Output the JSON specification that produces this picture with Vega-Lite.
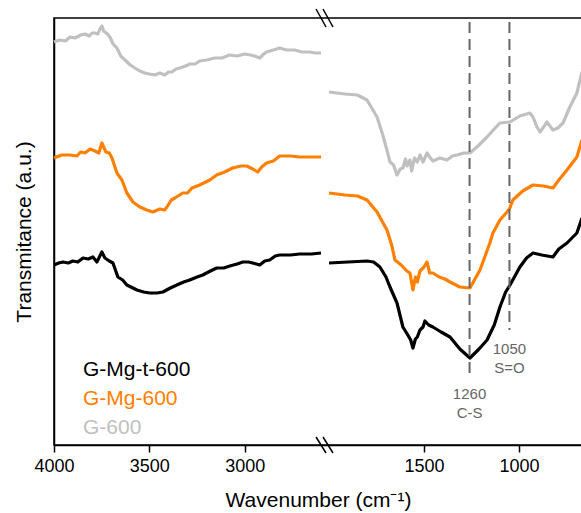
{
  "$schema": "https://vega.github.io/schema/vega-lite/v6.json",
  "width": 528,
  "height": 427,
  "autosize": {"type": "none"},
  "padding": {"left": 54, "top": 18, "right": 0, "bottom": 68},
  "background": "white",
  "config": {"font": "Liberation Sans", "view": {"stroke": "black", "strokeWidth": 1.5}},
  "datasets": {
    "spectra": [
      {"sample": "G-600", "part": "L", "wn": 4000, "T": 403},
      {"sample": "G-600", "part": "L", "wn": 3970, "T": 405},
      {"sample": "G-600", "part": "L", "wn": 3940, "T": 404},
      {"sample": "G-600", "part": "L", "wn": 3916, "T": 408},
      {"sample": "G-600", "part": "L", "wn": 3890, "T": 407},
      {"sample": "G-600", "part": "L", "wn": 3860, "T": 410},
      {"sample": "G-600", "part": "L", "wn": 3838, "T": 411},
      {"sample": "G-600", "part": "L", "wn": 3815, "T": 409},
      {"sample": "G-600", "part": "L", "wn": 3800, "T": 412},
      {"sample": "G-600", "part": "L", "wn": 3785, "T": 412},
      {"sample": "G-600", "part": "L", "wn": 3770, "T": 411},
      {"sample": "G-600", "part": "L", "wn": 3759, "T": 416},
      {"sample": "G-600", "part": "L", "wn": 3749, "T": 419},
      {"sample": "G-600", "part": "L", "wn": 3740, "T": 414},
      {"sample": "G-600", "part": "L", "wn": 3733, "T": 413},
      {"sample": "G-600", "part": "L", "wn": 3720, "T": 411},
      {"sample": "G-600", "part": "L", "wn": 3707, "T": 408},
      {"sample": "G-600", "part": "L", "wn": 3690, "T": 401},
      {"sample": "G-600", "part": "L", "wn": 3670, "T": 397},
      {"sample": "G-600", "part": "L", "wn": 3650, "T": 389},
      {"sample": "G-600", "part": "L", "wn": 3628, "T": 385},
      {"sample": "G-600", "part": "L", "wn": 3600, "T": 380},
      {"sample": "G-600", "part": "L", "wn": 3576, "T": 377},
      {"sample": "G-600", "part": "L", "wn": 3550, "T": 374},
      {"sample": "G-600", "part": "L", "wn": 3524, "T": 372},
      {"sample": "G-600", "part": "L", "wn": 3500, "T": 371},
      {"sample": "G-600", "part": "L", "wn": 3471, "T": 370},
      {"sample": "G-600", "part": "L", "wn": 3445, "T": 372},
      {"sample": "G-600", "part": "L", "wn": 3419, "T": 370},
      {"sample": "G-600", "part": "L", "wn": 3400, "T": 373},
      {"sample": "G-600", "part": "L", "wn": 3382, "T": 373},
      {"sample": "G-600", "part": "L", "wn": 3360, "T": 376},
      {"sample": "G-600", "part": "L", "wn": 3340, "T": 377},
      {"sample": "G-600", "part": "L", "wn": 3310, "T": 379},
      {"sample": "G-600", "part": "L", "wn": 3288, "T": 381},
      {"sample": "G-600", "part": "L", "wn": 3260, "T": 381},
      {"sample": "G-600", "part": "L", "wn": 3236, "T": 384},
      {"sample": "G-600", "part": "L", "wn": 3200, "T": 385},
      {"sample": "G-600", "part": "L", "wn": 3157, "T": 387},
      {"sample": "G-600", "part": "L", "wn": 3120, "T": 387},
      {"sample": "G-600", "part": "L", "wn": 3079, "T": 390},
      {"sample": "G-600", "part": "L", "wn": 3040, "T": 389},
      {"sample": "G-600", "part": "L", "wn": 3000, "T": 391},
      {"sample": "G-600", "part": "L", "wn": 2970, "T": 390},
      {"sample": "G-600", "part": "L", "wn": 2948, "T": 389},
      {"sample": "G-600", "part": "L", "wn": 2921, "T": 387},
      {"sample": "G-600", "part": "L", "wn": 2900, "T": 391},
      {"sample": "G-600", "part": "L", "wn": 2885, "T": 393},
      {"sample": "G-600", "part": "L", "wn": 2850, "T": 395},
      {"sample": "G-600", "part": "L", "wn": 2817, "T": 397},
      {"sample": "G-600", "part": "L", "wn": 2780, "T": 395},
      {"sample": "G-600", "part": "L", "wn": 2738, "T": 395},
      {"sample": "G-600", "part": "L", "wn": 2700, "T": 393},
      {"sample": "G-600", "part": "L", "wn": 2660, "T": 393},
      {"sample": "G-600", "part": "L", "wn": 2630, "T": 392},
      {"sample": "G-600", "part": "L", "wn": 2600, "T": 392},

      {"sample": "G-600", "part": "R", "wn": 2000, "T": 353},
      {"sample": "G-600", "part": "R", "wn": 1916, "T": 351},
      {"sample": "G-600", "part": "R", "wn": 1850, "T": 350},
      {"sample": "G-600", "part": "R", "wn": 1800, "T": 345},
      {"sample": "G-600", "part": "R", "wn": 1747, "T": 328},
      {"sample": "G-600", "part": "R", "wn": 1720, "T": 312},
      {"sample": "G-600", "part": "R", "wn": 1695, "T": 295},
      {"sample": "G-600", "part": "R", "wn": 1679, "T": 283},
      {"sample": "G-600", "part": "R", "wn": 1660, "T": 280},
      {"sample": "G-600", "part": "R", "wn": 1642, "T": 270},
      {"sample": "G-600", "part": "R", "wn": 1625, "T": 276},
      {"sample": "G-600", "part": "R", "wn": 1611, "T": 277},
      {"sample": "G-600", "part": "R", "wn": 1597, "T": 286},
      {"sample": "G-600", "part": "R", "wn": 1589, "T": 279},
      {"sample": "G-600", "part": "R", "wn": 1574, "T": 285},
      {"sample": "G-600", "part": "R", "wn": 1565, "T": 274},
      {"sample": "G-600", "part": "R", "wn": 1550, "T": 287},
      {"sample": "G-600", "part": "R", "wn": 1535, "T": 283},
      {"sample": "G-600", "part": "R", "wn": 1521, "T": 290},
      {"sample": "G-600", "part": "R", "wn": 1505, "T": 283},
      {"sample": "G-600", "part": "R", "wn": 1484, "T": 292},
      {"sample": "G-600", "part": "R", "wn": 1470, "T": 288},
      {"sample": "G-600", "part": "R", "wn": 1453, "T": 284},
      {"sample": "G-600", "part": "R", "wn": 1416, "T": 287},
      {"sample": "G-600", "part": "R", "wn": 1379, "T": 285},
      {"sample": "G-600", "part": "R", "wn": 1350, "T": 289},
      {"sample": "G-600", "part": "R", "wn": 1326, "T": 290},
      {"sample": "G-600", "part": "R", "wn": 1290, "T": 292},
      {"sample": "G-600", "part": "R", "wn": 1258, "T": 292},
      {"sample": "G-600", "part": "R", "wn": 1210, "T": 300},
      {"sample": "G-600", "part": "R", "wn": 1168, "T": 308},
      {"sample": "G-600", "part": "R", "wn": 1130, "T": 316},
      {"sample": "G-600", "part": "R", "wn": 1100, "T": 322},
      {"sample": "G-600", "part": "R", "wn": 1047, "T": 323},
      {"sample": "G-600", "part": "R", "wn": 995, "T": 329},
      {"sample": "G-600", "part": "R", "wn": 942, "T": 332},
      {"sample": "G-600", "part": "R", "wn": 926, "T": 328},
      {"sample": "G-600", "part": "R", "wn": 905, "T": 318},
      {"sample": "G-600", "part": "R", "wn": 889, "T": 313},
      {"sample": "G-600", "part": "R", "wn": 870, "T": 318},
      {"sample": "G-600", "part": "R", "wn": 853, "T": 323},
      {"sample": "G-600", "part": "R", "wn": 821, "T": 315},
      {"sample": "G-600", "part": "R", "wn": 795, "T": 317},
      {"sample": "G-600", "part": "R", "wn": 768, "T": 322},
      {"sample": "G-600", "part": "R", "wn": 732, "T": 338},
      {"sample": "G-600", "part": "R", "wn": 695, "T": 352},
      {"sample": "G-600", "part": "R", "wn": 668, "T": 373},

      {"sample": "G-Mg-600", "part": "L", "wn": 4000, "T": 287},
      {"sample": "G-Mg-600", "part": "L", "wn": 3960, "T": 290},
      {"sample": "G-Mg-600", "part": "L", "wn": 3916, "T": 290},
      {"sample": "G-Mg-600", "part": "L", "wn": 3880, "T": 289},
      {"sample": "G-Mg-600", "part": "L", "wn": 3860, "T": 293},
      {"sample": "G-Mg-600", "part": "L", "wn": 3838, "T": 292},
      {"sample": "G-Mg-600", "part": "L", "wn": 3810, "T": 296},
      {"sample": "G-Mg-600", "part": "L", "wn": 3785, "T": 294},
      {"sample": "G-Mg-600", "part": "L", "wn": 3765, "T": 292},
      {"sample": "G-Mg-600", "part": "L", "wn": 3749, "T": 302},
      {"sample": "G-Mg-600", "part": "L", "wn": 3728, "T": 293},
      {"sample": "G-Mg-600", "part": "L", "wn": 3710, "T": 292},
      {"sample": "G-Mg-600", "part": "L", "wn": 3696, "T": 287},
      {"sample": "G-Mg-600", "part": "L", "wn": 3670, "T": 272},
      {"sample": "G-Mg-600", "part": "L", "wn": 3644, "T": 265},
      {"sample": "G-Mg-600", "part": "L", "wn": 3618, "T": 252},
      {"sample": "G-Mg-600", "part": "L", "wn": 3586, "T": 243},
      {"sample": "G-Mg-600", "part": "L", "wn": 3550, "T": 238},
      {"sample": "G-Mg-600", "part": "L", "wn": 3513, "T": 235},
      {"sample": "G-Mg-600", "part": "L", "wn": 3482, "T": 233},
      {"sample": "G-Mg-600", "part": "L", "wn": 3445, "T": 236},
      {"sample": "G-Mg-600", "part": "L", "wn": 3420, "T": 235},
      {"sample": "G-Mg-600", "part": "L", "wn": 3408, "T": 238},
      {"sample": "G-Mg-600", "part": "L", "wn": 3385, "T": 245},
      {"sample": "G-Mg-600", "part": "L", "wn": 3366, "T": 247},
      {"sample": "G-Mg-600", "part": "L", "wn": 3325, "T": 252},
      {"sample": "G-Mg-600", "part": "L", "wn": 3300, "T": 252},
      {"sample": "G-Mg-600", "part": "L", "wn": 3277, "T": 257},
      {"sample": "G-Mg-600", "part": "L", "wn": 3236, "T": 260},
      {"sample": "G-Mg-600", "part": "L", "wn": 3183, "T": 265},
      {"sample": "G-Mg-600", "part": "L", "wn": 3147, "T": 270},
      {"sample": "G-Mg-600", "part": "L", "wn": 3105, "T": 273},
      {"sample": "G-Mg-600", "part": "L", "wn": 3063, "T": 277},
      {"sample": "G-Mg-600", "part": "L", "wn": 3020, "T": 279},
      {"sample": "G-Mg-600", "part": "L", "wn": 2989, "T": 279},
      {"sample": "G-Mg-600", "part": "L", "wn": 2958, "T": 276},
      {"sample": "G-Mg-600", "part": "L", "wn": 2932, "T": 273},
      {"sample": "G-Mg-600", "part": "L", "wn": 2911, "T": 278},
      {"sample": "G-Mg-600", "part": "L", "wn": 2885, "T": 282},
      {"sample": "G-Mg-600", "part": "L", "wn": 2850, "T": 284},
      {"sample": "G-Mg-600", "part": "L", "wn": 2817, "T": 289},
      {"sample": "G-Mg-600", "part": "L", "wn": 2760, "T": 289},
      {"sample": "G-Mg-600", "part": "L", "wn": 2712, "T": 288},
      {"sample": "G-Mg-600", "part": "L", "wn": 2650, "T": 288},
      {"sample": "G-Mg-600", "part": "L", "wn": 2600, "T": 288},

      {"sample": "G-Mg-600", "part": "R", "wn": 2000, "T": 252},
      {"sample": "G-Mg-600", "part": "R", "wn": 1916, "T": 250},
      {"sample": "G-Mg-600", "part": "R", "wn": 1850, "T": 249},
      {"sample": "G-Mg-600", "part": "R", "wn": 1800, "T": 245},
      {"sample": "G-Mg-600", "part": "R", "wn": 1747, "T": 233},
      {"sample": "G-Mg-600", "part": "R", "wn": 1695, "T": 215},
      {"sample": "G-Mg-600", "part": "R", "wn": 1670, "T": 200},
      {"sample": "G-Mg-600", "part": "R", "wn": 1653, "T": 185},
      {"sample": "G-Mg-600", "part": "R", "wn": 1620, "T": 180},
      {"sample": "G-Mg-600", "part": "R", "wn": 1590, "T": 174},
      {"sample": "G-Mg-600", "part": "R", "wn": 1574, "T": 172},
      {"sample": "G-Mg-600", "part": "R", "wn": 1558, "T": 155},
      {"sample": "G-Mg-600", "part": "R", "wn": 1545, "T": 168},
      {"sample": "G-Mg-600", "part": "R", "wn": 1535, "T": 163},
      {"sample": "G-Mg-600", "part": "R", "wn": 1521, "T": 174},
      {"sample": "G-Mg-600", "part": "R", "wn": 1500, "T": 178},
      {"sample": "G-Mg-600", "part": "R", "wn": 1484, "T": 183},
      {"sample": "G-Mg-600", "part": "R", "wn": 1470, "T": 172},
      {"sample": "G-Mg-600", "part": "R", "wn": 1453, "T": 172},
      {"sample": "G-Mg-600", "part": "R", "wn": 1420, "T": 168},
      {"sample": "G-Mg-600", "part": "R", "wn": 1390, "T": 166},
      {"sample": "G-Mg-600", "part": "R", "wn": 1363, "T": 163},
      {"sample": "G-Mg-600", "part": "R", "wn": 1311, "T": 158},
      {"sample": "G-Mg-600", "part": "R", "wn": 1258, "T": 157},
      {"sample": "G-Mg-600", "part": "R", "wn": 1205, "T": 175},
      {"sample": "G-Mg-600", "part": "R", "wn": 1153, "T": 202},
      {"sample": "G-Mg-600", "part": "R", "wn": 1137, "T": 212},
      {"sample": "G-Mg-600", "part": "R", "wn": 1100, "T": 225},
      {"sample": "G-Mg-600", "part": "R", "wn": 1063, "T": 233},
      {"sample": "G-Mg-600", "part": "R", "wn": 1050, "T": 236},
      {"sample": "G-Mg-600", "part": "R", "wn": 1032, "T": 245},
      {"sample": "G-Mg-600", "part": "R", "wn": 980, "T": 254},
      {"sample": "G-Mg-600", "part": "R", "wn": 926, "T": 260},
      {"sample": "G-Mg-600", "part": "R", "wn": 870, "T": 259},
      {"sample": "G-Mg-600", "part": "R", "wn": 821, "T": 257},
      {"sample": "G-Mg-600", "part": "R", "wn": 790, "T": 265},
      {"sample": "G-Mg-600", "part": "R", "wn": 747, "T": 275},
      {"sample": "G-Mg-600", "part": "R", "wn": 695, "T": 288},
      {"sample": "G-Mg-600", "part": "R", "wn": 668, "T": 305},

      {"sample": "G-Mg-t-600", "part": "L", "wn": 4000, "T": 180},
      {"sample": "G-Mg-t-600", "part": "L", "wn": 3975, "T": 182},
      {"sample": "G-Mg-t-600", "part": "L", "wn": 3953, "T": 183},
      {"sample": "G-Mg-t-600", "part": "L", "wn": 3925, "T": 182},
      {"sample": "G-Mg-t-600", "part": "L", "wn": 3901, "T": 184},
      {"sample": "G-Mg-t-600", "part": "L", "wn": 3875, "T": 183},
      {"sample": "G-Mg-t-600", "part": "L", "wn": 3848, "T": 187},
      {"sample": "G-Mg-t-600", "part": "L", "wn": 3820, "T": 186},
      {"sample": "G-Mg-t-600", "part": "L", "wn": 3796, "T": 188},
      {"sample": "G-Mg-t-600", "part": "L", "wn": 3775, "T": 183},
      {"sample": "G-Mg-t-600", "part": "L", "wn": 3749, "T": 193},
      {"sample": "G-Mg-t-600", "part": "L", "wn": 3733, "T": 187},
      {"sample": "G-Mg-t-600", "part": "L", "wn": 3710, "T": 184},
      {"sample": "G-Mg-t-600", "part": "L", "wn": 3691, "T": 182},
      {"sample": "G-Mg-t-600", "part": "L", "wn": 3665, "T": 168},
      {"sample": "G-Mg-t-600", "part": "L", "wn": 3640, "T": 165},
      {"sample": "G-Mg-t-600", "part": "L", "wn": 3618, "T": 160},
      {"sample": "G-Mg-t-600", "part": "L", "wn": 3565, "T": 155},
      {"sample": "G-Mg-t-600", "part": "L", "wn": 3530, "T": 153},
      {"sample": "G-Mg-t-600", "part": "L", "wn": 3497, "T": 152},
      {"sample": "G-Mg-t-600", "part": "L", "wn": 3460, "T": 152},
      {"sample": "G-Mg-t-600", "part": "L", "wn": 3429, "T": 153},
      {"sample": "G-Mg-t-600", "part": "L", "wn": 3390, "T": 157},
      {"sample": "G-Mg-t-600", "part": "L", "wn": 3356, "T": 160},
      {"sample": "G-Mg-t-600", "part": "L", "wn": 3320, "T": 163},
      {"sample": "G-Mg-t-600", "part": "L", "wn": 3288, "T": 165},
      {"sample": "G-Mg-t-600", "part": "L", "wn": 3250, "T": 168},
      {"sample": "G-Mg-t-600", "part": "L", "wn": 3220, "T": 170},
      {"sample": "G-Mg-t-600", "part": "L", "wn": 3180, "T": 174},
      {"sample": "G-Mg-t-600", "part": "L", "wn": 3147, "T": 177},
      {"sample": "G-Mg-t-600", "part": "L", "wn": 3110, "T": 177},
      {"sample": "G-Mg-t-600", "part": "L", "wn": 3078, "T": 179},
      {"sample": "G-Mg-t-600", "part": "L", "wn": 3040, "T": 181},
      {"sample": "G-Mg-t-600", "part": "L", "wn": 3010, "T": 183},
      {"sample": "G-Mg-t-600", "part": "L", "wn": 2980, "T": 183},
      {"sample": "G-Mg-t-600", "part": "L", "wn": 2958, "T": 182},
      {"sample": "G-Mg-t-600", "part": "L", "wn": 2921, "T": 180},
      {"sample": "G-Mg-t-600", "part": "L", "wn": 2895, "T": 184},
      {"sample": "G-Mg-t-600", "part": "L", "wn": 2869, "T": 185},
      {"sample": "G-Mg-t-600", "part": "L", "wn": 2840, "T": 189},
      {"sample": "G-Mg-t-600", "part": "L", "wn": 2817, "T": 190},
      {"sample": "G-Mg-t-600", "part": "L", "wn": 2760, "T": 190},
      {"sample": "G-Mg-t-600", "part": "L", "wn": 2712, "T": 191},
      {"sample": "G-Mg-t-600", "part": "L", "wn": 2650, "T": 191},
      {"sample": "G-Mg-t-600", "part": "L", "wn": 2600, "T": 192},

      {"sample": "G-Mg-t-600", "part": "R", "wn": 2000, "T": 182},
      {"sample": "G-Mg-t-600", "part": "R", "wn": 1900, "T": 183},
      {"sample": "G-Mg-t-600", "part": "R", "wn": 1800, "T": 184},
      {"sample": "G-Mg-t-600", "part": "R", "wn": 1765, "T": 183},
      {"sample": "G-Mg-t-600", "part": "R", "wn": 1732, "T": 178},
      {"sample": "G-Mg-t-600", "part": "R", "wn": 1700, "T": 168},
      {"sample": "G-Mg-t-600", "part": "R", "wn": 1679, "T": 158},
      {"sample": "G-Mg-t-600", "part": "R", "wn": 1642, "T": 142},
      {"sample": "G-Mg-t-600", "part": "R", "wn": 1611, "T": 118},
      {"sample": "G-Mg-t-600", "part": "R", "wn": 1585, "T": 110},
      {"sample": "G-Mg-t-600", "part": "R", "wn": 1570, "T": 105},
      {"sample": "G-Mg-t-600", "part": "R", "wn": 1558, "T": 97},
      {"sample": "G-Mg-t-600", "part": "R", "wn": 1545, "T": 106},
      {"sample": "G-Mg-t-600", "part": "R", "wn": 1535, "T": 108},
      {"sample": "G-Mg-t-600", "part": "R", "wn": 1521, "T": 115},
      {"sample": "G-Mg-t-600", "part": "R", "wn": 1505, "T": 118},
      {"sample": "G-Mg-t-600", "part": "R", "wn": 1495, "T": 124},
      {"sample": "G-Mg-t-600", "part": "R", "wn": 1475, "T": 120},
      {"sample": "G-Mg-t-600", "part": "R", "wn": 1453, "T": 118},
      {"sample": "G-Mg-t-600", "part": "R", "wn": 1410, "T": 113},
      {"sample": "G-Mg-t-600", "part": "R", "wn": 1363, "T": 108},
      {"sample": "G-Mg-t-600", "part": "R", "wn": 1311, "T": 96},
      {"sample": "G-Mg-t-600", "part": "R", "wn": 1258, "T": 87},
      {"sample": "G-Mg-t-600", "part": "R", "wn": 1210, "T": 96},
      {"sample": "G-Mg-t-600", "part": "R", "wn": 1168, "T": 105},
      {"sample": "G-Mg-t-600", "part": "R", "wn": 1130, "T": 120},
      {"sample": "G-Mg-t-600", "part": "R", "wn": 1100, "T": 138},
      {"sample": "G-Mg-t-600", "part": "R", "wn": 1070, "T": 153},
      {"sample": "G-Mg-t-600", "part": "R", "wn": 1047, "T": 160},
      {"sample": "G-Mg-t-600", "part": "R", "wn": 995, "T": 178},
      {"sample": "G-Mg-t-600", "part": "R", "wn": 960, "T": 187},
      {"sample": "G-Mg-t-600", "part": "R", "wn": 926, "T": 192},
      {"sample": "G-Mg-t-600", "part": "R", "wn": 880, "T": 190},
      {"sample": "G-Mg-t-600", "part": "R", "wn": 821, "T": 188},
      {"sample": "G-Mg-t-600", "part": "R", "wn": 790, "T": 196},
      {"sample": "G-Mg-t-600", "part": "R", "wn": 747, "T": 202},
      {"sample": "G-Mg-t-600", "part": "R", "wn": 695, "T": 212},
      {"sample": "G-Mg-t-600", "part": "R", "wn": 668, "T": 227}
    ],
    "markers": [
      {"wn": 1260, "top": 423, "bottom": 70, "label": "1260\nC-S"},
      {"wn": 1050, "top": 423, "bottom": 115, "label": "1050\nS=O"}
    ],
    "breaks": [
      {"x1": 2626, "x2": 2225, "y1": 436, "y2": 418},
      {"x1": 2450, "x2": 1979, "y1": 436, "y2": 418},
      {"x1": 2626, "x2": 2225, "y1": 8, "y2": -8},
      {"x1": 2450, "x2": 1979, "y1": 8, "y2": -8}
    ]
  },
  "layer": [
    {
      "data": {"name": "spectra"},
      "mark": {"type": "line", "strokeWidth": 3.2, "strokeJoin": "round"},
      "encoding": {
        "x": {
          "field": "wn", "type": "quantitative",
          "scale": {"domain": [4000, 2600, 2000, 668], "range": [0, 267, 275, 528], "nice": false, "zero": false},
          "axis": {
            "values": [4000, 3500, 3000, 1500, 1000], "format": "d", "grid": false,
            "labelFlush": false, "labelFontSize": 18, "labelColor": "black", "labelPadding": 5,
            "tickSize": 7, "tickColor": "black", "tickWidth": 1.5,
            "domainColor": "black", "domainWidth": 1.5,
            "title": "Wavenumber (cm⁻¹)", "titleFontSize": 21, "titleFontWeight": "normal",
            "titleColor": "black", "titlePadding": 14
          }
        },
        "y": {
          "field": "T", "type": "quantitative",
          "scale": {"domain": [0, 427], "nice": false, "zero": false},
          "axis": {
            "ticks": false, "labels": false, "grid": false,
            "domainColor": "black", "domainWidth": 1.5,
            "title": "Transmitance (a.u.)", "titleFontSize": 21, "titleFontWeight": "normal",
            "titleColor": "black", "titlePadding": 20
          }
        },
        "color": {
          "field": "sample", "type": "nominal",
          "scale": {"domain": ["G-Mg-t-600", "G-Mg-600", "G-600"], "range": ["#000000", "#ff8000", "#c0c0c0"]},
          "legend": {
            "title": null, "orient": "none", "legendX": 8, "legendY": 341,
            "labelFontSize": 21, "labelOffset": 0, "symbolSize": 0, "symbolOpacity": 0,
            "symbolStrokeWidth": 0, "rowPadding": 7, "padding": 0,
            "labelColor": {"expr": "scale('color', datum.value)"}
          }
        },
        "detail": {"field": "part", "type": "nominal"}
      }
    },
    {
      "data": {"name": "markers"},
      "mark": {"type": "rule", "color": "#666666", "strokeWidth": 2, "strokeDash": [11, 6]},
      "encoding": {
        "x": {"field": "wn", "type": "quantitative"},
        "y": {"field": "top", "type": "quantitative"},
        "y2": {"field": "bottom"}
      }
    },
    {
      "data": {"name": "markers"},
      "mark": {"type": "text", "lineBreak": "\n", "baseline": "top", "dy": 12, "fontSize": 15, "font": "Liberation Sans", "color": "#666666", "lineHeight": 19},
      "encoding": {
        "x": {"field": "wn", "type": "quantitative"},
        "y": {"field": "bottom", "type": "quantitative"},
        "text": {"field": "label"}
      }
    },
    {
      "data": {"name": "breaks"},
      "mark": {"type": "rule", "color": "black", "strokeWidth": 1.5},
      "encoding": {
        "x": {"field": "x1", "type": "quantitative"},
        "x2": {"field": "x2"},
        "y": {"field": "y1", "type": "quantitative"},
        "y2": {"field": "y2"}
      }
    }
  ]
}
